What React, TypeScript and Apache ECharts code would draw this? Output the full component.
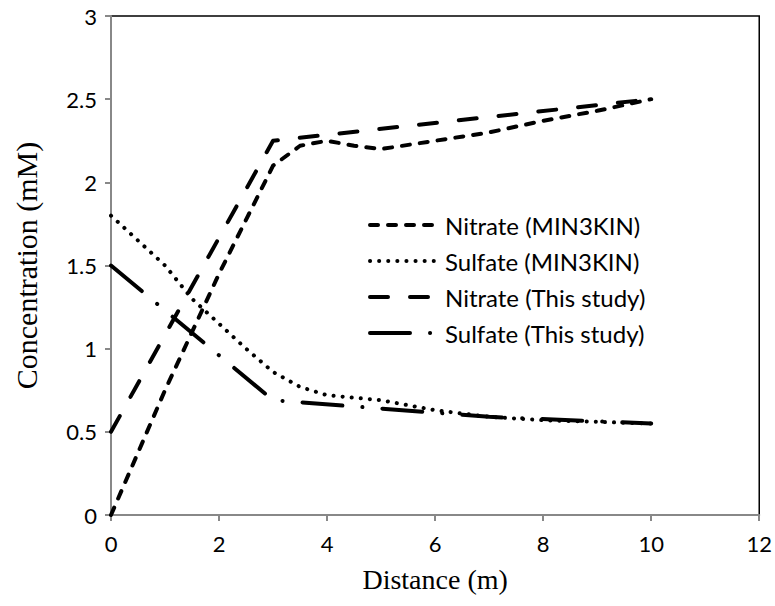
import React, { useEffect, useRef } from "react";
import * as echarts from "echarts";

const xTicks = [0, 2, 4, 6, 8, 10, 12];
const nitrateMinX = [0, 1, 2, 3, 3.5, 4, 4.5, 5, 6, 7, 8, 9, 10];
const nitrateMinY = [0, 0.75, 1.45, 2.1, 2.22, 2.25, 2.22, 2.2, 2.25, 2.3, 2.37, 2.43, 2.5];
const sulfateMinX = [0, 0.5, 1, 1.5, 2, 2.5, 3, 3.5, 4, 5, 6, 7, 8, 9, 10];
const sulfateMinY = [1.8, 1.65, 1.5, 1.3, 1.15, 1.0, 0.86, 0.77, 0.72, 0.69, 0.63, 0.59, 0.57, 0.56, 0.55];
const nitrateStudyX = [0, 3, 10];
const nitrateStudyY = [0.5, 2.25, 2.5];
const sulfateStudyX = [0, 3, 5, 7, 10];
const sulfateStudyY = [1.5, 0.69, 0.64, 0.59, 0.55];
const seriesNames = [
  "Nitrate (MIN3KIN)",
  "Sulfate (MIN3KIN)",
  "Nitrate (This study)",
  "Sulfate (This study)",
];

const zip = (xs: number[], ys: number[]) => xs.map((x, i) => [x, ys[i]]);

export default function App() {
  const ref = useRef<HTMLDivElement>(null);
  useEffect(() => {
    const chart = echarts.init(ref.current!, null, { renderer: "svg" });
    const mk = (name: string, data: number[][], dash: number[]) => ({
      name,
      type: "line",
      data,
      symbol: "none",
      lineStyle: { color: "#000", width: 4, type: dash, cap: "round", join: "round" },
      itemStyle: { color: "#000" },
    });
    chart.setOption({
      animation: false,
      backgroundColor: "#fff",
      grid: {
        left: 111,
        right: 11,
        top: 16,
        bottom: 91,
        show: true,
        borderColor: "#000",
        borderWidth: 1.5,
      },
      legend: {
        orient: "vertical",
        left: 363,
        top: 208,
        itemWidth: 70,
        itemHeight: 14,
        itemGap: 12,
        data: seriesNames,
        itemStyle: { opacity: 0 },
        lineStyle: { width: 4, cap: "round" },
        textStyle: { fontFamily: "Lato", fontSize: 24, lineHeight: 24, color: "#000" },
      },
      xAxis: {
        type: "value",
        min: 0,
        max: 12,
        interval: 2,
        name: "Distance (m)",
        nameLocation: "middle",
        nameGap: 50,
        nameTextStyle: { fontFamily: "Liberation Serif", fontSize: 28, color: "#000" },
        axisLine: { show: true, lineStyle: { color: "#888", width: 2 } },
        axisTick: { show: true, length: 6, lineStyle: { color: "#888", width: 2 } },
        axisLabel: {
          fontFamily: "Lato",
          fontSize: 22,
          color: "#000",
          margin: 17,
          formatter: (v: number) => (xTicks.includes(v) ? String(v) : ""),
        },
        splitLine: { show: false },
      },
      yAxis: {
        type: "value",
        min: 0,
        max: 3,
        interval: 0.5,
        name: "Concentration (mM)",
        nameLocation: "middle",
        nameGap: 70,
        nameTextStyle: { fontFamily: "Liberation Serif", fontSize: 30, color: "#000" },
        axisLine: { show: true, lineStyle: { color: "#888", width: 2 } },
        axisTick: { show: true, length: 6, lineStyle: { color: "#888", width: 2 } },
        axisLabel: { fontFamily: "Lato", fontSize: 22, color: "#000", margin: 14 },
        splitLine: { show: false },
      },
      series: [
        mk(seriesNames[0], zip(nitrateMinX, nitrateMinY), [8, 10]),
        mk(seriesNames[1], zip(sulfateMinX, sulfateMinY), [0.1, 9]),
        mk(seriesNames[2], zip(nitrateStudyX, nitrateStudyY), [18, 22]),
        mk(seriesNames[3], zip(sulfateStudyX, sulfateStudyY), [40, 20, 0.1, 20]),
      ],
    });
    return () => chart.dispose();
  }, []);
  return <div ref={ref} style={{ width: 775, height: 606, position: "absolute", left: 0, top: 0 }} />;
}
